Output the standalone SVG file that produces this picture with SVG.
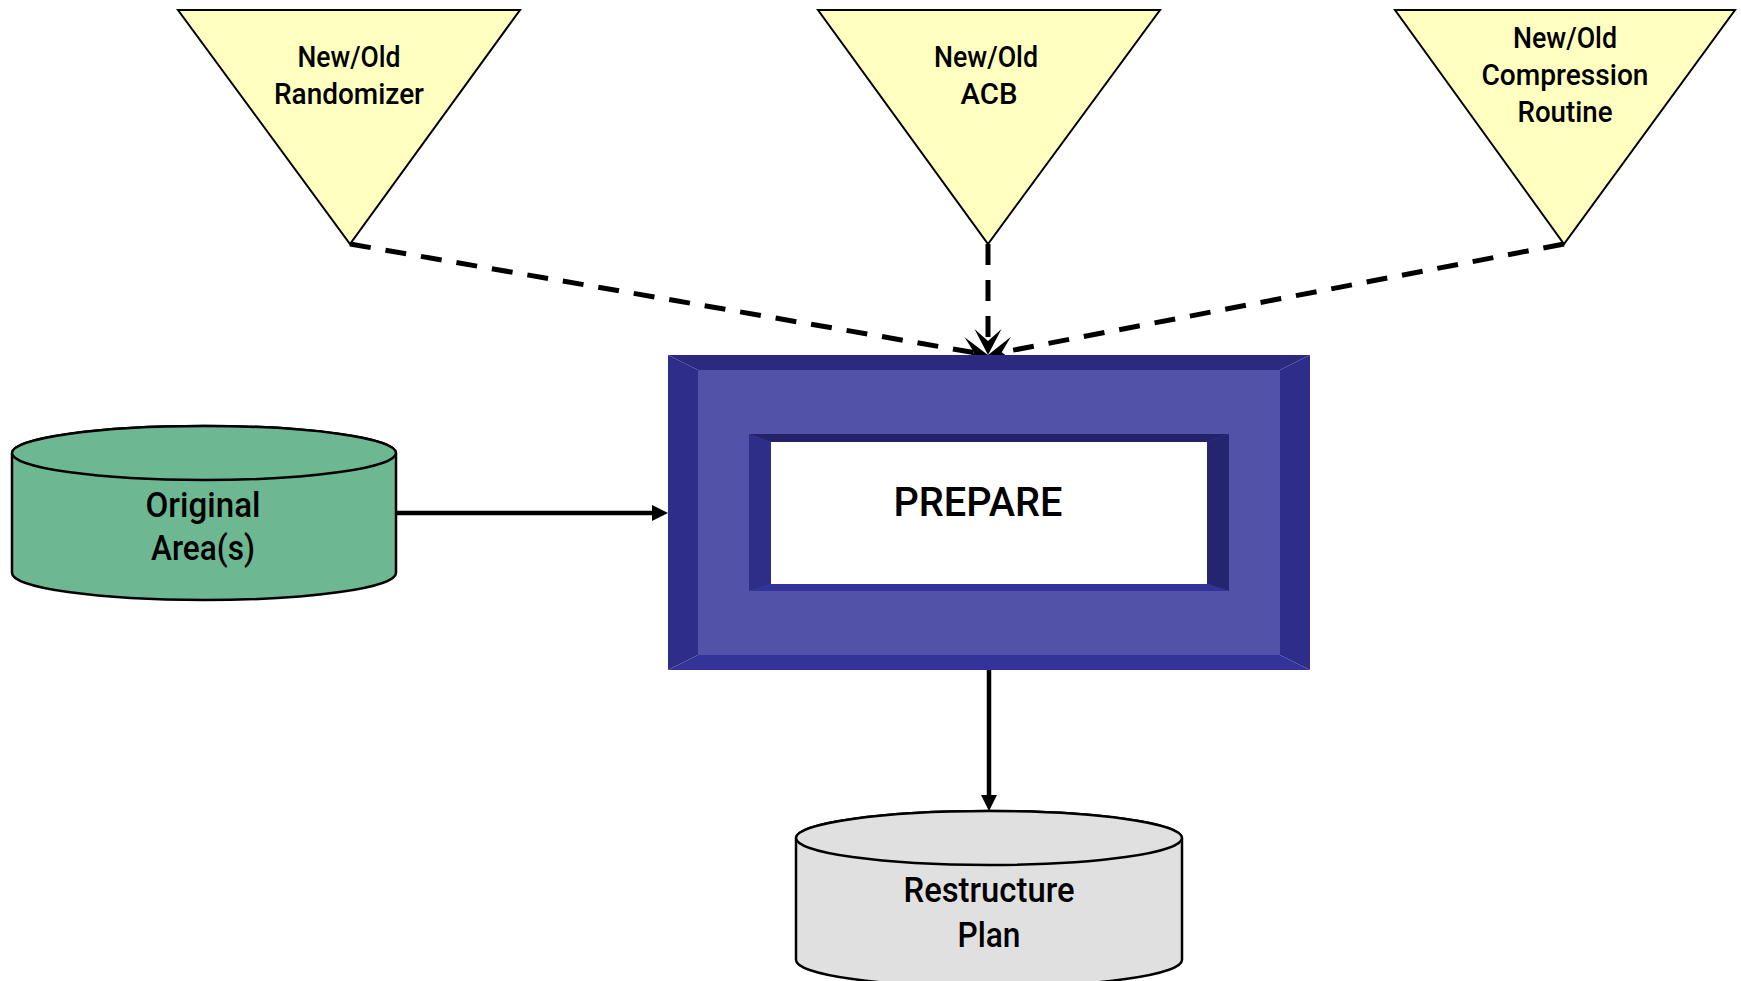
<svg xmlns="http://www.w3.org/2000/svg" width="1741" height="981" viewBox="0 0 1741 981">
  <style>
    .lbl { font-family: Roboto, "Liberation Sans", Arial, sans-serif; font-weight: 500; fill: #000; text-anchor: middle; }
    .tri { fill: #FFFFC0; stroke: #000; stroke-width: 2; stroke-linejoin: miter; }
    .cyl { stroke: #000; stroke-width: 2.5; }
    .dash { fill: none; stroke: #000; stroke-width: 5; stroke-dasharray: 21 15; marker-end: url(#stealth); }
    .solid { fill: none; stroke: #000; stroke-width: 4.5; marker-end: url(#tri-head); }
  </style>
  <defs>
    <!-- barbed head used by the dashed inputs; tip sits 10 units past the line end -->
    <marker id="stealth" markerUnits="userSpaceOnUse" orient="auto" refX="0" refY="0" markerWidth="1" markerHeight="1" overflow="visible">
      <path d="M10,0 L-16,-13.5 L-4,0 L-16,13.5 Z" fill="#000"/>
    </marker>
    <!-- plain filled head for the solid data flows -->
    <marker id="tri-head" markerUnits="userSpaceOnUse" orient="auto" refX="0" refY="0" markerWidth="1" markerHeight="1" overflow="visible">
      <path d="M6,0 L-10,-8 L-10,8 Z" fill="#000"/>
    </marker>
  </defs>

  <rect width="1741" height="981" fill="#fff"/>

  <!-- connectors -->
  <g id="connectors">
    <path class="dash" d="M350,244 L978.1,353.3"/>
    <path class="dash" d="M988,244 L988,345"/>
    <path class="dash" d="M1564,244 L997.8,353.1"/>
    <path class="solid" d="M396,513 L662,513"/>
    <path class="solid" d="M989,670 L989,805"/>
  </g>

  <!-- input: randomizer -->
  <g id="randomizer">
    <polygon class="tri" points="178,10 520,10 350,244"/>
    <text class="lbl" x="349" y="67" font-size="30" textLength="103" lengthAdjust="spacingAndGlyphs">New/Old</text>
    <text class="lbl" x="349" y="104" font-size="30" textLength="150" lengthAdjust="spacingAndGlyphs">Randomizer</text>
  </g>

  <!-- input: ACB -->
  <g id="acb">
    <polygon class="tri" points="818,10 1160,10 988,244"/>
    <text class="lbl" x="986" y="67" font-size="30" textLength="104" lengthAdjust="spacingAndGlyphs">New/Old</text>
    <text class="lbl" x="989" y="104" font-size="30" textLength="57" lengthAdjust="spacingAndGlyphs">ACB</text>
  </g>

  <!-- input: compression routine -->
  <g id="compression">
    <polygon class="tri" points="1395,10 1735,10 1564,244"/>
    <text class="lbl" x="1565" y="48" font-size="30" textLength="104" lengthAdjust="spacingAndGlyphs">New/Old</text>
    <text class="lbl" x="1565" y="85" font-size="30" textLength="167" lengthAdjust="spacingAndGlyphs">Compression</text>
    <text class="lbl" x="1565" y="122" font-size="30" textLength="95" lengthAdjust="spacingAndGlyphs">Routine</text>
  </g>

  <!-- process: PREPARE (bevelled frame with recessed panel) -->
  <g id="prepare">
    <rect x="698" y="370" width="582" height="285" fill="#5253A8"/>
    <polygon points="668,355 1310,355 1280,370 698,370" fill="#2B2A80"/>
    <polygon points="668,355 698,370 698,655 668,670" fill="#2E2D8A"/>
    <polygon points="1310,355 1310,670 1280,655 1280,370" fill="#2E2D8A"/>
    <polygon points="668,670 698,655 1280,655 1310,670" fill="#34339A"/>
    <rect x="771" y="442" width="436" height="142" fill="#fff"/>
    <polygon points="749,434 1229,434 1207,442 771,442" fill="#24236A"/>
    <polygon points="749,434 771,442 771,584 749,591" fill="#2E2D88"/>
    <polygon points="1229,434 1229,591 1207,584 1207,442" fill="#25246F"/>
    <polygon points="749,591 771,584 1207,584 1229,591" fill="#33329A"/>
    <text class="lbl" x="978" y="516" font-size="40" textLength="169" lengthAdjust="spacingAndGlyphs">PREPARE</text>
  </g>

  <!-- store: original areas -->
  <g id="original">
    <path class="cyl" fill="#6DB893" d="M12,453 V573 A192,27 0 0 0 396,573 V453 A192,27 0 0 0 12,453 Z"/>
    <ellipse class="cyl" fill="#6DB893" cx="204" cy="453" rx="192" ry="27"/>
    <text class="lbl" x="203" y="517" font-size="35" textLength="115" lengthAdjust="spacingAndGlyphs">Original</text>
    <text class="lbl" x="203" y="560" font-size="35" textLength="104" lengthAdjust="spacingAndGlyphs">Area(s)</text>
  </g>

  <!-- store: restructure plan -->
  <g id="plan">
    <path class="cyl" fill="#E0E0E0" d="M796,838 V960 A193,27 0 0 0 1182,960 V838 A193,27 0 0 0 796,838 Z"/>
    <ellipse class="cyl" fill="#E0E0E0" cx="989" cy="838" rx="193" ry="27"/>
    <text class="lbl" x="989" y="902" font-size="35" textLength="171" lengthAdjust="spacingAndGlyphs">Restructure</text>
    <text class="lbl" x="989" y="947" font-size="35" textLength="63" lengthAdjust="spacingAndGlyphs">Plan</text>
  </g>
</svg>
